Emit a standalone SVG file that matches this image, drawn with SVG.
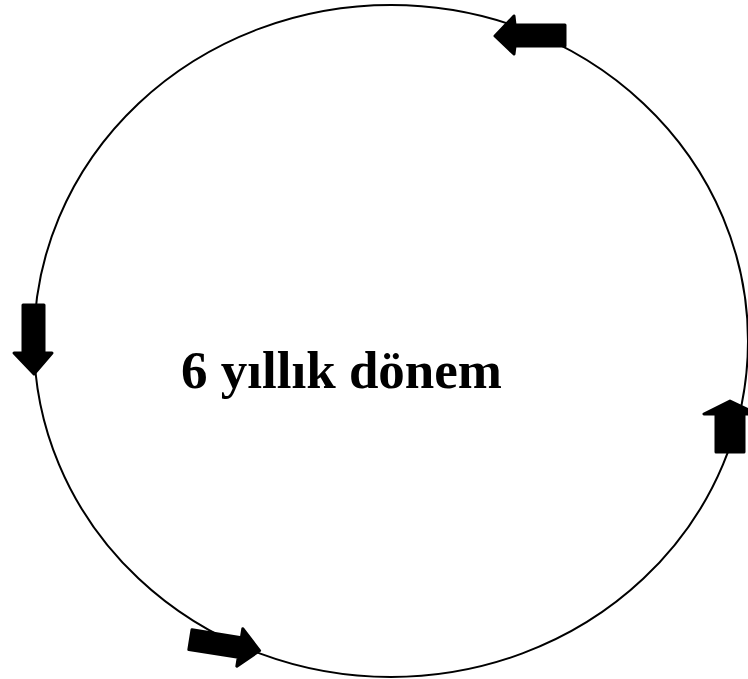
<svg xmlns="http://www.w3.org/2000/svg" width="748" height="679" viewBox="0 0 748 679">
<style>
.ring{fill:none;stroke:#000;stroke-width:2}
.arr{fill:#000;stroke:#000;stroke-width:3;stroke-linejoin:round}
.lbl{font-family:"Liberation Serif","Times New Roman",serif;font-weight:bold;font-size:53px;fill:#000}
</style>
<rect width="748" height="679" fill="#fff"/>
<g id="cycle">
<ellipse class="ring" cx="391" cy="341" rx="357" ry="336"/>
</g>
<g id="connectors">
<path id="arrow-top" class="arr" d="M565,25 L515,25 L514,16 L495,36 L514,54 L515,46 L565,46 Z"/>
<path id="arrow-left" class="arr" d="M23,305 L44,305 L44,353 L52,353 L34,374 L14,353 L23,353 Z"/>
<path id="arrow-right" class="arr" d="M716,452 L744,452 L744,414 L757,414 L730,401 L704,414 L716,414 Z"/>
<path id="arrow-bottom" class="arr" transform="translate(224,645) rotate(9)" d="M-34,-10 L16,-10 L16,-19 L36,0 L16,19 L16,10 L-34,10 Z"/>
</g>
<g id="label">
<text class="lbl" x="181" y="388">6 yıllık dönem</text>
</g>
</svg>
